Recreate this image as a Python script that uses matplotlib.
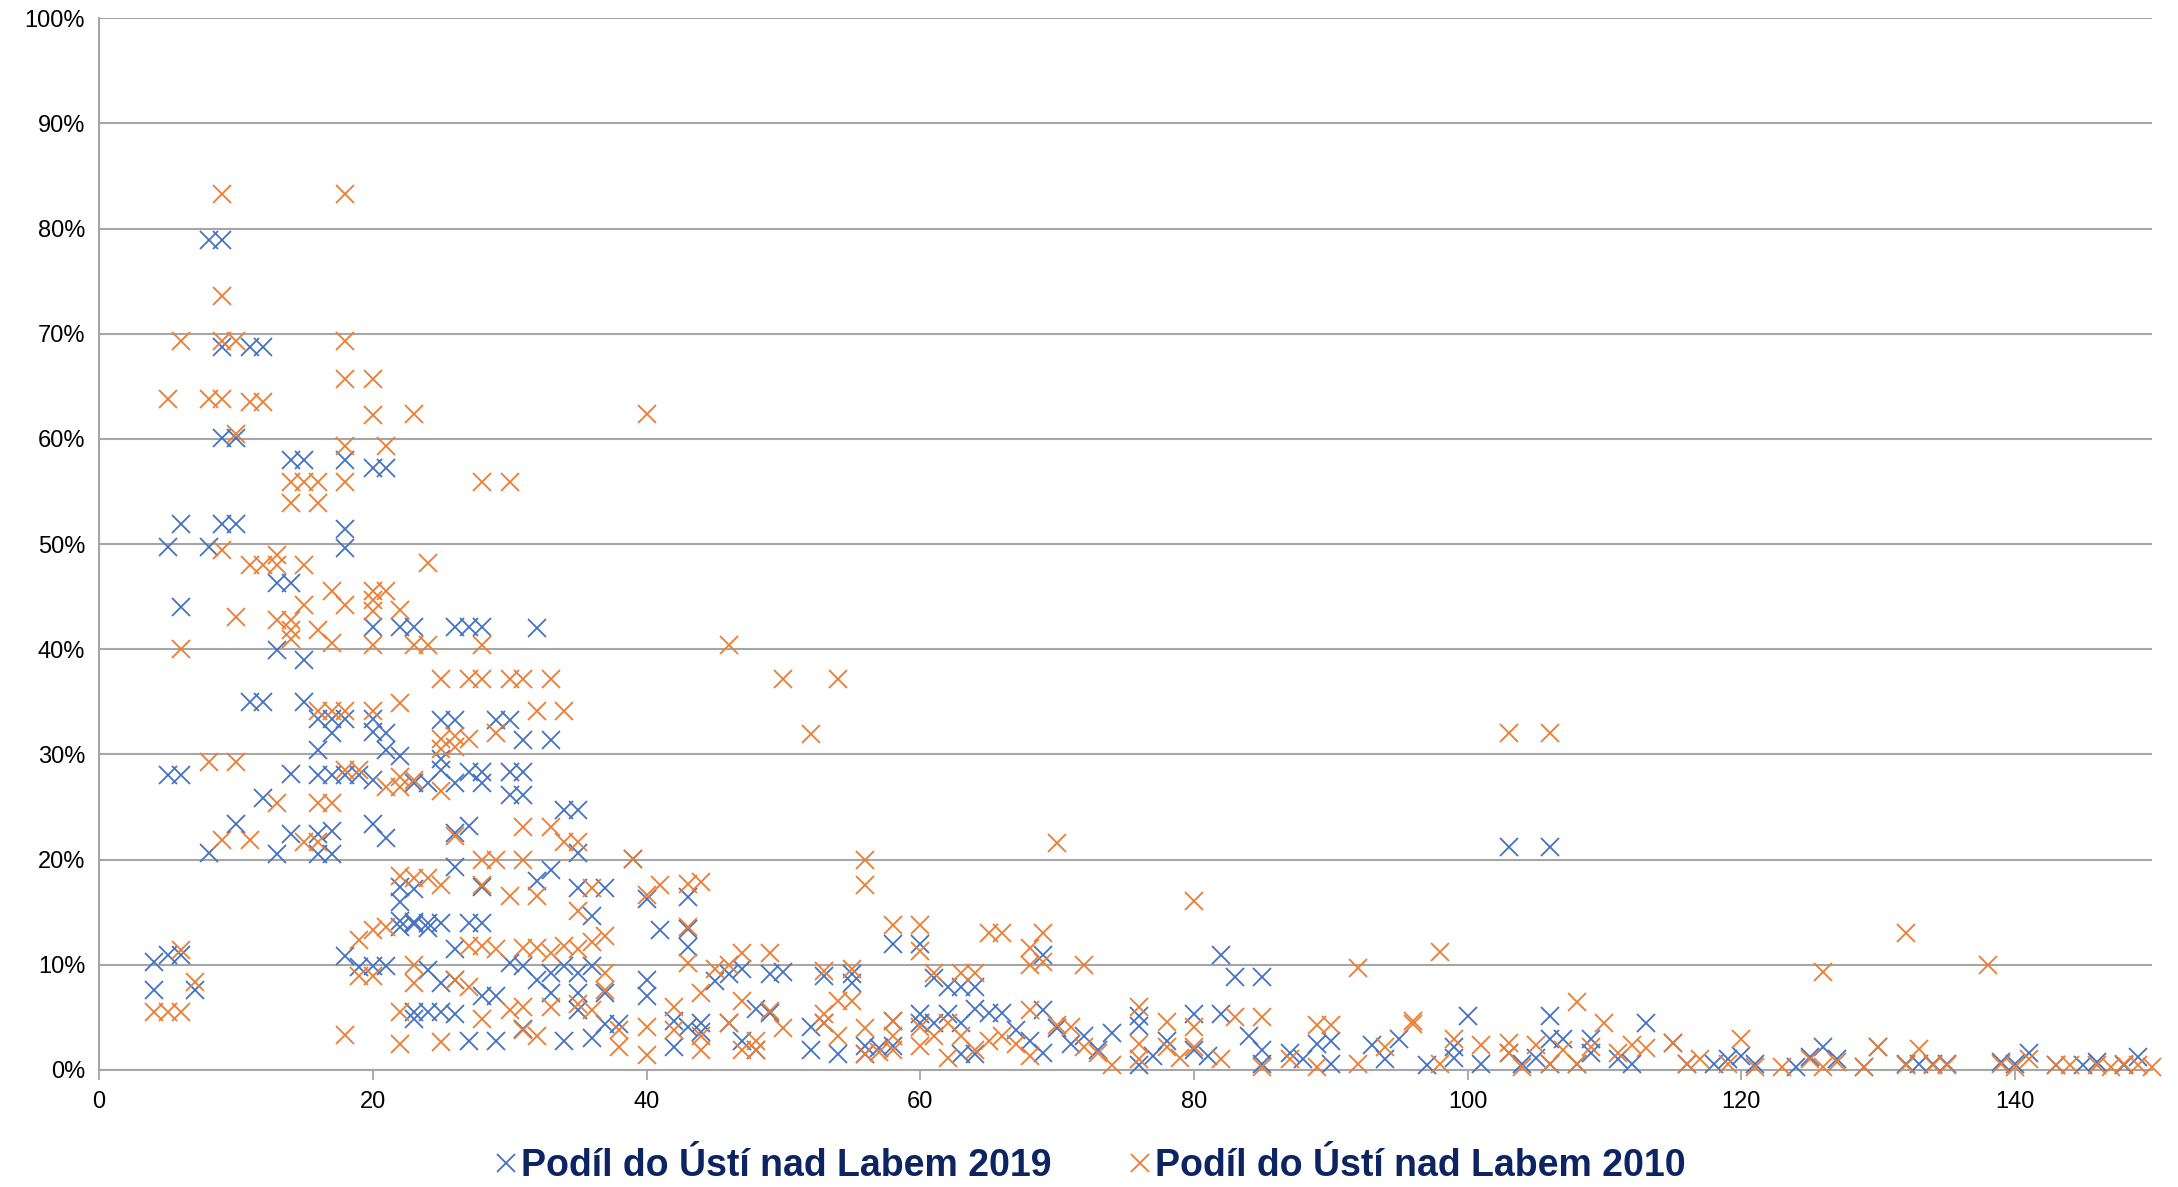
import matplotlib.pyplot as plt
from matplotlib.lines import Line2D

# Podíl do Ústí nad Labem (%) podle vzdálenosti, roky 2019 a 2010
x_2019 = [
    4, 4, 5, 5, 5, 6, 6, 6, 6, 7,
    8, 8, 8, 9, 9, 9, 9, 10, 10, 10,
    11, 11, 12, 12, 12, 13, 13, 13,
    14, 14, 14, 14, 15, 15, 15,
    16, 16, 16, 16, 16, 17, 17, 17, 17, 17,
    18, 18, 18, 18, 18, 18, 19, 19,
    20, 20, 20, 20, 20, 20, 20,
    21, 21, 21, 21, 21,
    22, 22, 22, 22, 22, 22,
    23, 23, 23, 23, 23, 23, 23,
    24, 24, 24, 24, 24,
    25, 25, 25, 25, 25, 25,
    26, 26, 26, 26, 26, 26, 26, 26,
    27, 27, 27, 27, 27,
    28, 28, 28, 28, 28, 28,
    29, 29, 29, 30, 30, 30, 30,
    31, 31, 31, 31, 31, 32, 32, 32,
    33, 33, 33, 33, 34, 34, 34,
    35, 35, 35, 35, 35, 35,
    36, 36, 36, 37, 37, 37, 38, 39,
    40, 40, 40, 41, 42, 42, 43, 43, 43, 43,
    44, 44, 45, 46, 46, 47, 47, 48, 48,
    49, 49, 50, 52, 52, 53, 53, 54, 55, 55,
    56, 56, 57, 58, 58, 58, 60, 60, 60,
    61, 61, 62, 62, 63, 63, 63, 64, 64, 64,
    65, 66, 67, 68, 69, 69, 69, 70, 71, 72, 73, 74,
    76, 76, 76, 77, 78, 80, 80, 81, 82, 82,
    83, 84, 85, 85, 85, 87, 88, 89, 90, 90,
    93, 94, 95, 97, 99, 99, 100, 101, 103, 103,
    104, 105, 106, 106, 106, 106, 107, 108, 109, 109,
    111, 112, 113, 115, 116, 118, 119, 120, 121,
    124, 125, 126, 127, 129, 130, 132, 133, 134, 135,
    139, 140, 141, 143, 145, 146, 148, 149,
]
y_2019 = [
    10.3, 7.6, 10.9, 28, 49.7, 10.9, 28, 44, 51.9, 7.6,
    20.6, 49.7, 78.9, 78.9, 68.7, 60.1, 51.9, 60.1, 51.9, 23.4,
    68.7, 35, 68.7, 35, 25.9, 46.3, 39.9, 20.5,
    46.3, 58, 28.1, 22.4, 58, 39, 35,
    33.4, 30.4, 28, 22.4, 20.5, 33.4, 32, 28, 22.7, 20.5,
    58, 51.4, 49.6, 33.4, 28, 10.8, 28, 9.8,
    57.2, 42.1, 33.4, 32.1, 27.6, 23.4, 9.9,
    57.2, 32, 30.4, 22.1, 9.9,
    42.1, 29.9, 17.4, 16, 14.2, 13.6,
    42.1, 27.3, 17.2, 14.1, 13.9, 5.5, 4.8,
    27.3, 14, 13.5, 9.5, 5.5,
    33.3, 29.6, 28.5, 14, 8.3, 5.5,
    42.1, 33.3, 27.3, 22.5, 19.3, 11.5, 8.6, 5.3,
    42.1, 28.3, 23.2, 14, 2.8,
    42.1, 28.3, 27.3, 17.4, 14, 7,
    33.3, 7, 2.8, 33.3, 28.3, 26.1, 10.2,
    31.4, 28.3, 26.1, 9.9, 3.9, 42, 18, 8.6,
    31.4, 19, 9.2, 7.3, 24.7, 9.9, 2.8,
    24.7, 20.6, 17.3, 9.2, 7.3, 5.7,
    14.6, 9.9, 3, 17.3, 7.3, 4.4, 4.4, 20.1,
    16.3, 8.6, 7, 13.3, 4.7, 2.2, 16.4, 13.4, 11.7, 4.1,
    4.5, 3.6, 8.5, 9.1, 4.5, 9.6, 2.8, 5.8, 1.9,
    9.1, 5.4, 9.3, 4.1, 1.9, 8.9, 4.5, 1.5, 9.1, 8.3,
    2.3, 1.5, 2.1, 12, 4.7, 2.3, 12, 5.3, 4.5,
    8.7, 4.5, 7.9, 5.3, 7.9, 4.5, 1.5, 7.9, 5.8, 1.5,
    5.4, 5.4, 3.8, 2.8, 10.9, 5.7, 1.6, 4.0, 2.5, 3.2, 1.9, 3.5,
    5.1, 4.2, 0.5, 1.3, 2.8, 5.3, 1.9, 1.3, 10.9, 5.3,
    8.8, 3.2, 8.8, 1.9, 0.6, 1.6, 1.0, 2.5, 2.8, 0.6,
    2.4, 1.0, 2.9, 0.5, 2.2, 1.1, 5.1, 0.6, 21.2, 1.6,
    0.6, 1.1, 21.2, 5.1, 2.9, 0.6, 2.9, 0.6, 2.9, 1.6,
    1.0, 0.6, 4.5, 2.6, 0.6, 0.6, 1.0, 1.3, 0.6,
    0.3, 1.2, 2.2, 1.0, 0.3, 2.2, 0.6, 0.6, 0.6, 0.6,
    0.8, 0.6, 1.6, 0.5, 0.5, 0.8, 0.5, 1.2,
]

x_2010 = [
    4, 5, 5, 6, 6, 6, 6, 7, 8, 8,
    9, 9, 9, 9, 9, 9, 10, 10, 10, 10,
    11, 11, 11, 12, 12, 13, 13, 13, 13,
    14, 14, 14, 14, 14, 15, 15, 15, 15,
    16, 16, 16, 16, 16, 16, 17, 17, 17, 17,
    18, 18, 18, 18, 18, 18, 18, 18, 18,
    19, 19, 19, 20, 20, 20, 20, 20, 20, 20, 20, 20,
    21, 21, 21, 21, 22, 22, 22, 22, 22, 22, 22,
    23, 23, 23, 23, 23, 23, 24, 24, 24,
    25, 25, 25, 25, 25, 25, 26, 26, 26, 26,
    27, 27, 27, 27, 28, 28, 28, 28, 28, 28, 28,
    29, 29, 29, 30, 30, 30, 30,
    31, 31, 31, 31, 31, 31, 32, 32, 32, 32,
    33, 33, 33, 33, 34, 34, 34,
    35, 35, 35, 35, 36, 36, 36, 37, 37, 37,
    38, 38, 39, 40, 40, 40, 40, 41, 42, 42,
    43, 43, 43, 44, 44, 44, 44, 45,
    46, 46, 46, 47, 47, 47, 48, 48, 49, 49,
    50, 50, 52, 53, 53, 53, 54, 54, 54, 55, 55,
    56, 56, 56, 56, 57, 58, 58, 58, 58,
    60, 60, 60, 60, 61, 61, 62, 62, 63, 63, 64, 64,
    65, 65, 66, 66, 67, 68, 68, 68, 68, 69, 69,
    70, 70, 71, 72, 72, 73, 74, 76, 76, 76,
    78, 78, 79, 80, 80, 80, 82, 83, 85, 85,
    87, 89, 89, 90, 92, 92, 94, 96, 96, 98, 98,
    99, 101, 103, 103, 103, 104, 105, 106, 106, 107,
    108, 108, 109, 110, 111, 112, 113, 115, 116, 117,
    119, 120, 121, 123, 125, 126, 126, 127, 129, 130,
    132, 132, 133, 134, 135, 138, 139, 140, 141, 143,
    144, 146, 147, 148, 149, 150,
]
y_2010 = [
    5.5, 63.8, 5.5, 69.3, 40, 11.4, 5.5, 8.4, 63.8, 29.3,
    83.3, 73.6, 69.3, 63.8, 49.4, 21.9, 69.3, 60.5, 43.1, 29.3,
    63.5, 48, 21.9, 63.5, 48, 49, 48, 42.8, 25.4,
    55.9, 53.9, 42.8, 41.8, 41, 55.9, 48, 44.2, 21.7,
    55.9, 53.9, 41.8, 34.1, 25.4, 21.7, 45.5, 40.6, 34.1, 25.4,
    83.3, 69.3, 65.7, 59.3, 55.9, 44.2, 34.1, 28.5, 3.3,
    28.5, 12.4, 8.9, 65.7, 62.3, 45.5, 44.7, 43.6, 40.4, 34.1, 13.3, 8.9,
    59.3, 45.5, 26.9, 13.6, 43.7, 34.9, 27.9, 26.9, 18.4, 5.5, 2.5,
    62.4, 40.4, 27.6, 18.3, 10, 8.3, 48.2, 40.4, 18.3,
    37.2, 31.5, 30.5, 26.5, 17.6, 2.7, 31.8, 30.7, 22.2, 8.6,
    37.2, 31.5, 11.8, 7.9, 55.9, 40.4, 37.2, 20, 17.6, 11.8, 4.8,
    32, 20, 11.5, 55.9, 37.2, 16.5, 5.7,
    37.2, 23.1, 20, 11.6, 6, 3.8, 34.1, 16.5, 11.6, 3.2,
    37.2, 23.1, 11.1, 6, 34.1, 21.7, 11.8,
    21.7, 15.1, 11.5, 6.3, 17.3, 12.2, 5.7, 12.7, 9.2, 7.6,
    3.8, 2.2, 20.1, 62.4, 16.6, 4.1, 1.4, 17.6, 6, 3.8,
    17.7, 13.6, 10.2, 17.9, 7.3, 3.2, 1.9, 9.6,
    40.4, 10, 4.5, 11.1, 6.6, 1.9, 2.8, 1.9, 11.1, 5.6,
    37.2, 4.0, 31.9, 9.4, 5.3, 4.5, 37.2, 6.6, 3.2, 9.6, 6.6,
    20, 17.6, 4, 1.5, 1.7, 13.8, 4.7, 3.2, 1.9,
    13.8, 11.3, 4.1, 2.3, 9.2, 3.2, 4.5, 1.1, 9.2, 3.2, 9.2, 1.9,
    13, 2.8, 13, 3.2, 2.5, 11.6, 10, 5.7, 1.3, 13, 10.3,
    21.6, 4.3, 4.1, 10, 2.2, 1.6, 0.5, 6, 2.5, 1,
    4.6, 2.2, 1.1, 16.1, 4.1, 2.2, 1, 5, 5, 0.3,
    1, 4.3, 0.3, 4.3, 9.7, 0.6, 2.2, 4.7, 4.4, 11.2, 0.6,
    2.9, 2.4, 32, 2.6, 1.6, 0.3, 2.4, 32, 0.6, 1.9,
    6.5, 0.6, 2.2, 4.5, 1.6, 2.4, 2.1, 2.6, 0.6, 1,
    0.6, 2.9, 0.3, 0.3, 1, 9.3, 0.3, 0.8, 0.3, 2.2,
    13, 0.5, 2, 0.5, 0.5, 10, 0.6, 0.3, 1, 0.5,
    0.5, 0.5, 0.3, 0.6, 0.5, 0.3,
]

x_ticks = [0, 20, 40, 60, 80, 100, 120, 140]
y_ticks = list(range(0, 101, 10))
y_labels = [f'{v}%' for v in y_ticks]
series_names = ['Podíl do Ústí nad Labem 2019', 'Podíl do Ústí nad Labem 2010']

blue = '#4472C4'
orange = '#ED7D31'

plt.rcParams['font.family'] = ['Liberation Sans', 'DejaVu Sans']

fig = plt.figure(figsize=(21.78, 11.87), dpi=100)
ax = fig.add_axes([0.0455, 0.0986, 0.9425, 0.886])

ax.plot(x_2019, y_2019, linestyle='none', marker='x', markersize=13,
        markeredgewidth=1.3, color=blue, clip_on=False, zorder=3)
ax.plot(x_2010, y_2010, linestyle='none', marker='x', markersize=13,
        markeredgewidth=1.3, color=orange, clip_on=False, zorder=4)

ax.set_xlim(0, 150)
ax.set_ylim(0, 100)
ax.set_xticks(x_ticks)
ax.set_yticks(y_ticks)
ax.set_yticklabels(y_labels)
ax.tick_params(axis='both', labelsize=17, colors='#000000')
ax.tick_params(axis='y', length=0, pad=10)
ax.tick_params(axis='x', length=7, width=1.3, color='#A6A6A6', pad=8, direction='out')

ax.grid(axis='y', color='#A6A6A6', linewidth=1.5)
ax.set_axisbelow(True)
for side in ['top', 'right']:
    ax.spines[side].set_visible(False)
ax.spines['left'].set_color('#A6A6A6')
ax.spines['bottom'].set_color('#A6A6A6')
ax.spines['left'].set_linewidth(1.5)
ax.spines['bottom'].set_linewidth(1.5)

handles = [
    Line2D([], [], linestyle='none', marker='x', markersize=13, markeredgewidth=1.3, color=blue),
    Line2D([], [], linestyle='none', marker='x', markersize=13, markeredgewidth=1.3, color=orange),
]
leg = fig.legend(handles, series_names, loc='center', bbox_to_anchor=(0.5, 0.018),
                 ncol=2, frameon=False, handletextpad=0.05, columnspacing=2.0,
                 handlelength=0.7, prop={'size': 27, 'weight': 'bold'})
for t in leg.get_texts():
    t.set_color('#0C2461')

fig.savefig('out.png', dpi=100)
